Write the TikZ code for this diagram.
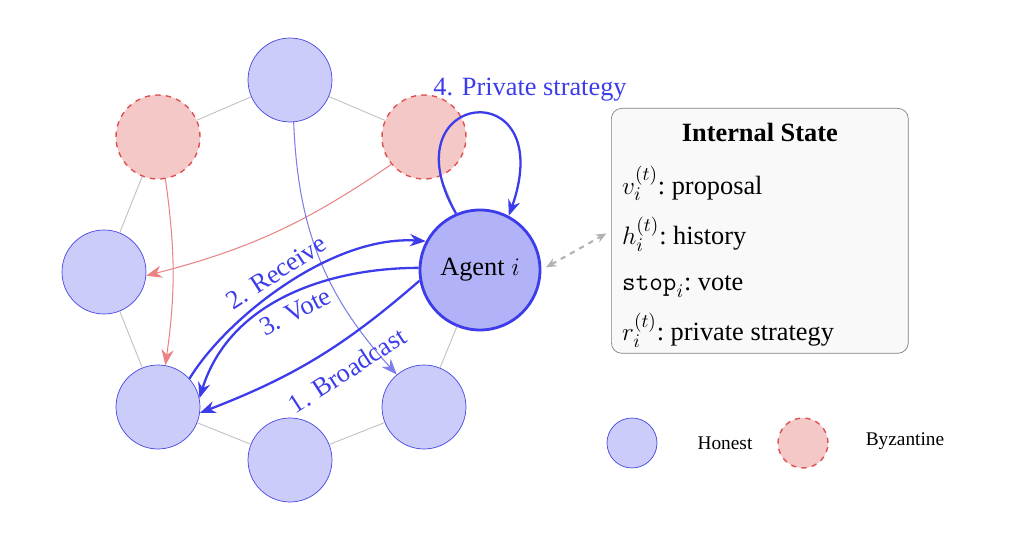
\documentclass[tikz,border=0pt]{standalone}
\usepackage{fontspec}
\setmainfont{Liberation Serif}
\usetikzlibrary{arrows.meta, positioning}
\definecolor{honestfill}{RGB}{204,204,250}
\definecolor{honestdraw}{RGB}{70,70,225}
\definecolor{byzfill}{RGB}{245,200,200}
\definecolor{byzdraw}{RGB}{225,80,80}
\definecolor{agentfill}{RGB}{178,178,248}
\definecolor{msgblue}{RGB}{60,60,235}

\begin{document}
\begin{tikzpicture}[
    x=0.02cm, y=-0.02cm,
    >={Stealth[length=9pt,width=7pt]},
    honest/.style={circle, draw=honestdraw, fill=honestfill, minimum size=1.68cm, inner sep=0pt},
    byz/.style={circle, draw=byzdraw, fill=byzfill, dashed, thick, minimum size=1.68cm, inner sep=0pt},
    agent/.style={circle, draw=msgblue, fill=agentfill, line width=1.6pt, minimum size=2.4cm, inner sep=0pt, font=\fontsize{15}{17}\selectfont},
    ring/.style={draw=gray!50, line width=0.5pt},
    message/.style={->, draw=msgblue, line width=1.3pt},
    flow/.style={->, line width=0.6pt},
    msglabel/.style={text=msgblue, font=\fontsize{15}{17}\selectfont}
]
\useasboundingbox (0,0) rectangle (1028,533);

% Ring of agents
\node[honest] (top) at (290,80) {};
\node[byz] (tl) at (158,137) {};
\node[byz] (tr) at (424,137) {};
\node[honest] (left) at (104,272) {};
\node[honest] (bl) at (158,407) {};
\node[honest] (bot) at (290,460) {};
\node[honest] (br) at (424,407) {};
\node[agent] (ag) at (480,270) {Agent $i$};

% Ring edges
\draw[ring] (top) -- (tr);
\draw[ring] (tr) -- (ag);
\draw[ring] (ag) -- (br);
\draw[ring] (br) -- (bot);
\draw[ring] (bot) -- (bl);
\draw[ring] (bl) -- (left);
\draw[ring] (left) -- (tl);
\draw[ring] (tl) -- (top);

% Background flows
\draw[flow, draw=byzdraw!70] (tl.-80) to[bend left=8] (bl.80);
\draw[flow, draw=byzdraw!70] (tr.-140) to[bend left=10] (left.-5);
\draw[flow, draw=honestdraw!70] (top.-85) to[bend right=20] (br.130);

% Messages
\draw[message] (bl.42) .. controls (225,320) and (330,235) .. node[msglabel, sloped, above, pos=0.5] {2. Receive} (ag.152);
\draw[message] (ag.178) .. controls (330,268) and (230,300) .. node[msglabel, sloped, below, pos=0.5, yshift=-1pt] {3. Vote} (bl.12);
\draw[message] (ag.-170) to[bend left=10] node[msglabel, sloped, below, pos=0.42, yshift=-6pt] {1. Broadcast} (bl.-8);

% Private strategy loop
\draw[message] (ag.113) .. controls (385,90) and (560,70) .. (ag.62);
\node[msglabel] (psl) at (530,90) {4. Private strategy};

% Internal state
\node[draw=gray, fill=gray!5, rounded corners=6pt, minimum width=5.94cm, minimum height=4.9cm, anchor=north west] (state) at (611,108) {};
\node[font=\fontsize{15}{17}\selectfont\bfseries, below=5pt of state.north] (stitle) {Internal State};
\node[font=\fontsize{15}{18}\selectfont, anchor=north west, align=left] (slist) at (616,160) {%
  $v_i^{(t)}$:\ proposal\\[8pt]
  $h_i^{(t)}$:\ history\\[8pt]
  $\texttt{stop}_i$:\ vote\\[8pt]
  $r_i^{(t)}$:\ private strategy};
\draw[<->, >={Stealth[length=6pt,width=5pt]}, draw=gray!60, dashed, line width=1.2pt, shorten <=3pt, shorten >=3pt] (ag.east) -- (state.west);

% Legend
\node[honest, minimum size=1cm] (lh) at (632,443) {};
\node[font=\fontsize{11}{13}\selectfont] (lht) at (725,443) {Honest};
\node[byz, minimum size=1cm] (lb) at (803,443) {};
\node[font=\fontsize{11}{13}\selectfont] (lbt) at (905,441) {Byzantine};
\end{tikzpicture}
\end{document}
